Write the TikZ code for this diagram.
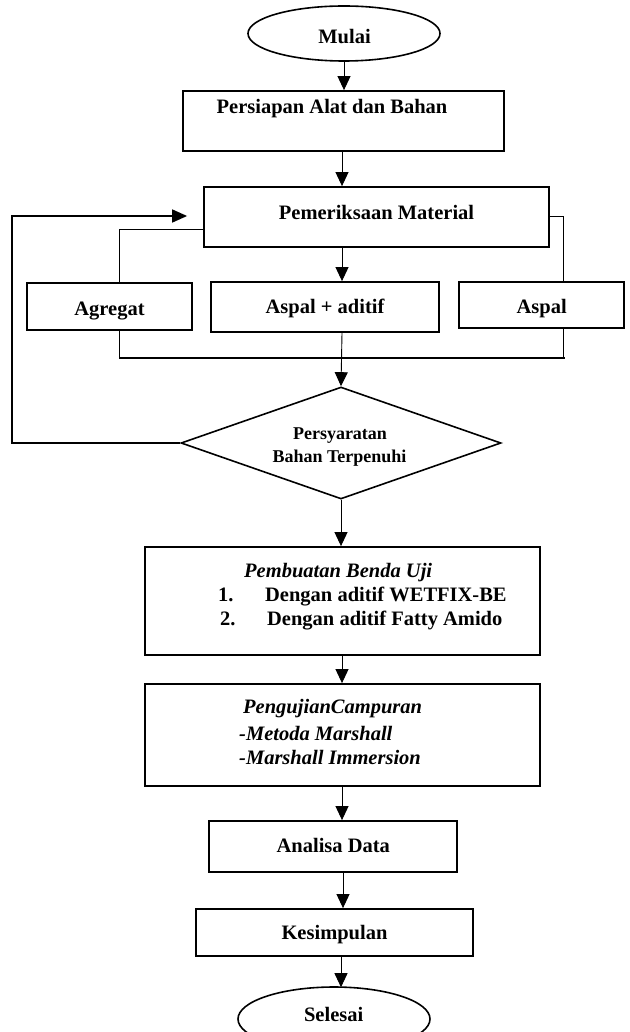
\documentclass[tikz,border=0pt]{standalone}
\usepackage{fontspec}
\setmainfont{Liberation Serif}
\usetikzlibrary{arrows.meta,shapes.geometric,calc}
\begin{document}
\begin{tikzpicture}[x=1pt,y=-1pt,
  box/.style={draw, line width=1.8pt, rectangle, inner sep=0pt},
  oval/.style={draw, line width=1.6pt, ellipse, inner sep=0pt},
  dia/.style={draw, line width=1.6pt, diamond, inner sep=0pt},
  txt/.style={font=\fontsize{20.5}{24}\selectfont\bfseries, inner sep=0pt, anchor=base},
  txtl/.style={txt, anchor=base west},
  itl/.style={font=\fontsize{20.5}{24}\selectfont\bfseries\itshape, inner sep=0pt, anchor=base west},
  dtxt/.style={font=\fontsize{18}{22}\selectfont\bfseries, inner sep=0pt, anchor=base},
  conn/.style={line width=0.9pt},
  bus/.style={line width=1.6pt},
  arr/.style={line width=0.9pt, -{Triangle[length=14pt,width=13pt]}},
  looparr/.style={line width=1.6pt, -{Triangle[length=15pt,width=13pt]}}
]
\useasboundingbox (0,0) rectangle (629,1032);
\coordinate (axis) at (342,0);

% shapes
\node[oval, minimum width=192pt, minimum height=55pt] (mulai) at (344,33.5) {};
\node[box, minimum width=321pt, minimum height=60pt] (persiapan) at (343.5,121) {};
\node[box, minimum width=345pt, minimum height=60pt] (pem) at (376.5,217) {};
\node[box, minimum width=165pt, minimum height=47pt] (agregat) at (109.5,306.5) {};
\node[box, minimum width=228pt, minimum height=50pt] (aa) at (325,307) {};
\node[box, minimum width=165pt, minimum height=46pt] (aspal) at (541.5,305) {};
\node[dia, minimum width=320pt, minimum height=112pt] (syarat) at (341,443) {};
\node[box, minimum width=395pt, minimum height=108pt] (buat) at (342.5,601) {};
\node[box, minimum width=395pt, minimum height=102pt] (uji) at (342.5,735) {};
\node[box, minimum width=248pt, minimum height=51pt] (analisa) at (333,846.5) {};
\node[box, minimum width=277pt, minimum height=47pt] (kesimpulan) at (334.5,932.5) {};
\node[oval, minimum width=192pt, minimum height=64pt] (selesai) at (334,1019) {};

% texts
\node[txt] (tmulai) at (344.5,43.3) {Mulai};
\node[txt] (tpersiapan) at (332,113.5) {Persiapan Alat dan Bahan};
\node[txt] (tpem) at (376.5,219) {Pemeriksaan Material};
\node[txt] (tagregat) at (109.5,315) {Agregat};
\node[txt] (taa) at (325,313) {Aspal + aditif};
\node[txt] (taspal) at (541.7,313) {Aspal};
\node[dtxt] (tsyarat1) at (340,439.3) {Persyaratan};
\node[dtxt] (tsyarat2) at (339.5,462.3) {Bahan Terpenuhi};
\node[itl] (tbuat) at (244,577) {Pembuatan Benda Uji};
\node[txtl] (tbuat1) at (218,601) {\makebox[47pt][l]{1.}Dengan aditif WETFIX-BE};
\node[txtl] (tbuat2) at (220,625) {\makebox[47pt][l]{2.}Dengan aditif Fatty Amido};
\node[itl] (tuji) at (243,713) {PengujianCampuran};
\node[itl] (tuji1) at (239,740) {-Metoda Marshall};
\node[itl] (tuji2) at (239,764) {-Marshall Immersion};
\node[txt] (tanalisa) at (333.3,852.3) {Analisa Data};
\node[txt] (tkesimpulan) at (334.5,939.3) {Kesimpulan};
\node[txt] (tselesai) at (333.7,1021.7) {Selesai};

% connectors
\draw[arr] (mulai.south) -- (mulai.south |- persiapan.north);
\draw[arr] (persiapan.south -| axis) -- (pem.north -| axis);
\draw[arr] (pem.south -| axis) -- (aa.north -| axis);
\draw[conn] ([yshift=-12pt]pem.west) -| ([xshift=9.5pt]agregat.north);
\draw[conn] ([yshift=1pt]pem.east) -| ([xshift=21.5pt]aspal.north);
\coordinate (busL) at (119,358);
\coordinate (busR) at (565,358);
\draw[conn] ([xshift=9.5pt]agregat.south) -- (busL);
\draw[conn] ([xshift=21.5pt]aspal.south) -- ([xshift=21.5pt]aspal.south |- busR);
\draw[bus] (busL) -- (busR);
\draw[arr] (aa.south -| axis) -- (syarat.north);
\coordinate (loopTL) at (12,216);
\draw[looparr] (syarat.west) -| (loopTL) -- ([xshift=-16pt,yshift=1pt]pem.west);
\draw[arr] (syarat.south) -- (syarat.south |- buat.north);
\draw[arr] (buat.south -| axis) -- (uji.north -| axis);
\draw[arr] (uji.south -| axis) -- (analisa.north -| axis);
\draw[arr] (analisa.south -| 343,0) -- (kesimpulan.north -| 343,0);
\draw[arr] (kesimpulan.south -| 341,0) -- ($(selesai.north)+(7,1)$);
\end{tikzpicture}
\end{document}
